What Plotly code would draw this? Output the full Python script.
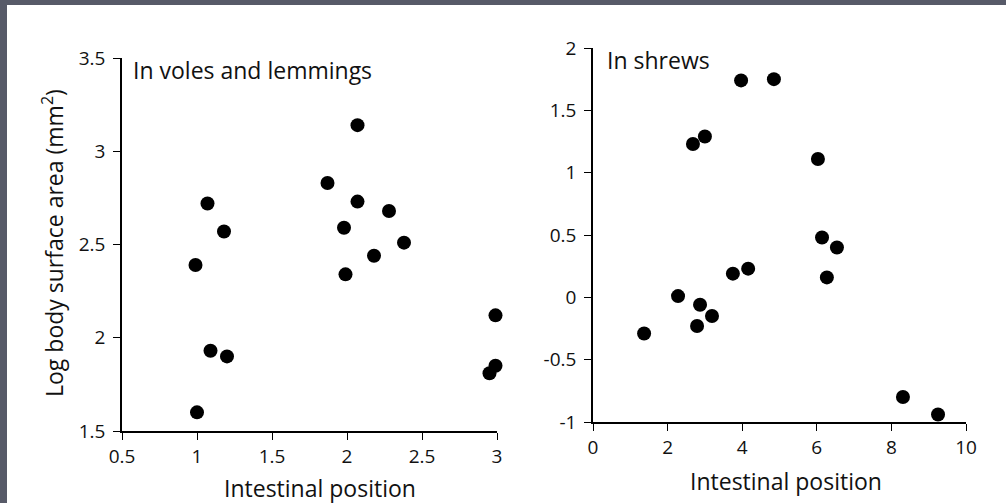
import plotly.graph_objects as go

W, H = 1006, 503

# Voles and lemmings: intestinal position vs log body surface area
vole_x = [0.99, 1.07, 1.18, 1.09, 1.20, 1.00, 1.87, 2.07, 2.07, 1.98, 1.99,
          2.28, 2.38, 2.18, 2.99, 2.99, 2.95]
vole_y = [2.39, 2.72, 2.57, 1.93, 1.90, 1.60, 2.83, 3.14, 2.73, 2.59, 2.34,
          2.68, 2.51, 2.44, 2.12, 1.85, 1.81]

# Shrews
shrew_x = [1.37, 2.28, 2.87, 2.79, 3.19, 3.75, 4.16, 2.68, 3.00, 3.97, 4.85,
           6.03, 6.14, 6.54, 6.27, 8.31, 9.25]
shrew_y = [-0.29, 0.01, -0.06, -0.23, -0.15, 0.19, 0.23, 1.23, 1.29, 1.74, 1.75,
           1.11, 0.48, 0.40, 0.16, -0.80, -0.94]

vole_xticks = [0.5, 1, 1.5, 2, 2.5, 3]
vole_yticks = [1.5, 2, 2.5, 3, 3.5]
shrew_xticks = [0, 2, 4, 6, 8, 10]
shrew_yticks = [-1, -0.5, 0, 0.5, 1, 1.5, 2]

panel_titles = ["In voles and lemmings", "In shrews"]
x_title = "Intestinal position"
y_title = "Log body surface area (mm<sup>2</sup>)"

FONT = "Open Sans"
INK = "#111111"


def fmt(v):
    return f"{v:g}"


def px_x(p):
    return p / W


def px_y(p):
    return 1 - p / H


fig = go.Figure()
marker = dict(size=14, color="black", line=dict(width=0))
fig.add_trace(go.Scatter(x=vole_x, y=vole_y, mode="markers", marker=marker,
                         xaxis="x", yaxis="y", cliponaxis=False, showlegend=False))
fig.add_trace(go.Scatter(x=shrew_x, y=shrew_y, mode="markers", marker=marker,
                         xaxis="x2", yaxis="y2", cliponaxis=False, showlegend=False))

axis_common = dict(
    showline=True, linecolor="black", linewidth=1.6, mirror=False,
    showgrid=False, zeroline=False, ticks="outside", ticklen=7, tickwidth=1.3,
    tickcolor="black", tickfont=dict(family=FONT, size=19, color=INK),
    automargin=False, fixedrange=True,
)
y_extra = dict(ticklabelstandoff=4)

fig.update_layout(
    width=W, height=H,
    margin=dict(l=0, r=0, t=0, b=0),
    paper_bgcolor="white", plot_bgcolor="white",
    xaxis=dict(domain=[px_x(122), px_x(497)], range=[0.5, 3], anchor="y",
               tickmode="array", tickvals=vole_xticks,
               ticktext=[fmt(v) for v in vole_xticks], **axis_common),
    yaxis=dict(domain=[px_y(431), px_y(58)], range=[1.5, 3.5], anchor="x",
               tickmode="array", tickvals=vole_yticks,
               ticktext=[fmt(v) for v in vole_yticks], **axis_common, **y_extra),
    xaxis2=dict(domain=[px_x(593), px_x(966)], range=[0, 10], anchor="y2",
                tickmode="array", tickvals=shrew_xticks,
                ticktext=[fmt(v) for v in shrew_xticks], **axis_common),
    yaxis2=dict(domain=[px_y(422), px_y(48)], range=[-1, 2], anchor="x2",
                tickmode="array", tickvals=shrew_yticks,
                ticktext=[fmt(v) for v in shrew_yticks], **axis_common, **y_extra),
)

ann_font = dict(family=FONT, size=23, color=INK)
annotations = [
    dict(text=panel_titles[0], x=px_x(131), y=px_y(70), xanchor="left", yanchor="middle"),
    dict(text=panel_titles[1], x=px_x(605), y=px_y(60), xanchor="left", yanchor="middle"),
    dict(text=x_title, x=px_x(320), y=px_y(488), xanchor="center", yanchor="middle"),
    dict(text=x_title, x=px_x(786), y=px_y(481), xanchor="center", yanchor="middle"),
    dict(text=y_title, x=px_x(53), y=px_y(243), xanchor="center", yanchor="middle",
         textangle=-90),
]
for a in annotations:
    fig.add_annotation(xref="paper", yref="paper", showarrow=False, font=ann_font, **a)

# dark frame along the top and left edges
frame = "#575a68"
fig.add_shape(type="rect", xref="paper", yref="paper", x0=0, x1=px_x(7), y0=0, y1=1,
              fillcolor=frame, line=dict(width=0), layer="above")
fig.add_shape(type="rect", xref="paper", yref="paper", x0=0, x1=1, y0=px_y(5), y1=1,
              fillcolor=frame, line=dict(width=0), layer="above")

fig.write_html("out.html", config=dict(displayModeBar=False))
